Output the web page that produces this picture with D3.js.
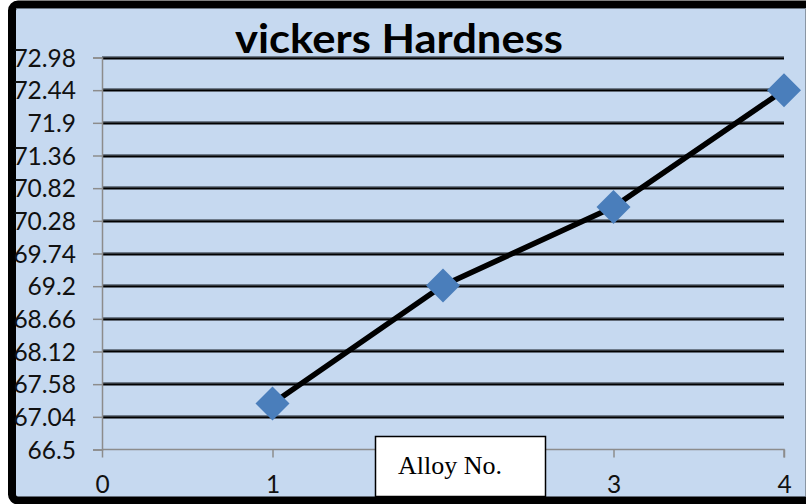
<!DOCTYPE html>
<html><head><meta charset="utf-8">
<script src="https://cdn.jsdelivr.net/npm/d3@7"></script>
<style>html,body{margin:0;padding:0;background:#fff;}svg{display:block;}</style>
</head><body>
<script>
const categories = [1, 2, 3, 4];
const hardness = [67.26, 69.21, 70.51, 72.44];
const yTicks = [66.5, 67.04, 67.58, 68.12, 68.66, 69.2, 69.74, 70.28, 70.82, 71.36, 71.9, 72.44, 72.98];
const xTicks = [0, 1, 2, 3, 4];
const xTickLabels = ["0", "1", "", "3", "4"]; // "2" is hidden behind the axis-title box
const title = "vickers Hardness";
const xTitle = "Alloy No.";

const W = 806, H = 504;
const svg = d3.select("body").append("svg").attr("width", W).attr("height", H);

// frame
svg.append("rect").attr("x", 12).attr("y", 4.5).attr("width", 806).attr("height", 496)
  .attr("rx", 6).attr("fill", "#c6d9f0").attr("stroke", "#000").attr("stroke-width", 8);
svg.append("line").attr("x1", 16).attr("x2", 806).attr("y1", 8.5).attr("y2", 8.5).attr("stroke", "#6d7885").attr("stroke-width", 1);
svg.append("line").attr("x1", 805.5).attr("x2", 805.5).attr("y1", 8).attr("y2", 496).attr("stroke", "#8a96a3").attr("stroke-width", 1);

const x = d3.scaleLinear().domain([0, 4]).range([102, 784]);
const y = d3.scaleLinear().domain([66.5, 72.98]).range([449.5, 57.5]);

// gridlines (skip the baseline)
const grid = svg.append("g");
yTicks.slice(1).forEach(v => {
  const yy = Math.round(y(v));
  grid.append("rect").attr("x", x(0)).attr("y", yy - 2).attr("width", x(4) - x(0)).attr("height", 1.3).attr("fill", "#6e7b8b");
  grid.append("rect").attr("x", x(0)).attr("y", yy - 0.7).attr("width", x(4) - x(0)).attr("height", 2.2).attr("fill", "#000");
});

const tickFont = "Lato, 'Open Sans', sans-serif";

// y axis
const yAxis = d3.axisLeft(y).tickValues(yTicks).tickSize(9).tickPadding(17).tickFormat(d => String(d));
const gy = svg.append("g").attr("transform", `translate(${x(0)},0)`).call(yAxis);
gy.select(".domain").attr("stroke", "#8c8c8c").attr("stroke-width", 1.5);
gy.selectAll(".tick line").attr("stroke", "#8c8c8c").attr("stroke-width", 1.5);
gy.selectAll(".tick text").attr("font-family", tickFont).attr("font-size", 24.5).attr("fill", "#111").attr("dy", "0.36em");

// x axis
const xAxis = d3.axisBottom(x).tickValues(xTicks).tickSize(8).tickPadding(18)
  .tickFormat((d, i) => xTickLabels[i]);
const gx = svg.append("g").attr("transform", `translate(0,${y(66.5)})`).call(xAxis);
gx.select(".domain").attr("stroke", "#8c8c8c").attr("stroke-width", 1.5).attr("d", `M${x(0)},0H${x(4)}V8`);
gx.selectAll(".tick line").attr("stroke", "#8c8c8c").attr("stroke-width", 1.5);
gx.selectAll(".tick text").attr("font-family", tickFont).attr("font-size", 24.5).attr("fill", "#111");

// series line
const line = d3.line().x((d, i) => x(categories[i])).y(d => y(d));
svg.append("path").datum(hardness).attr("d", line).attr("fill", "none").attr("stroke", "#000").attr("stroke-width", 5.5).attr("stroke-linejoin", "round");

// markers
const sym = d3.symbol().type(d3.symbolSquare).size(580);
svg.selectAll(".pt").data(hardness).enter().append("path")
  .attr("d", sym)
  .attr("transform", (d, i) => `translate(${x(categories[i])},${y(d)}) rotate(45)`)
  .attr("fill", "#4a7ebb");

// title
svg.append("text").attr("x", 399).attr("y", 53).attr("text-anchor", "middle")
  .attr("font-family", "Lato, 'Open Sans', sans-serif").attr("font-weight", "bold").attr("font-size", 40)
  .attr("textLength", 328).attr("lengthAdjust", "spacingAndGlyphs")
  .attr("fill", "#000").text(title);

// x axis title box
svg.append("rect").attr("x", 375.5).attr("y", 436.5).attr("width", 170).attr("height", 60)
  .attr("fill", "#fff").attr("stroke", "#000").attr("stroke-width", 1.5);
svg.append("text").attr("x", 398).attr("y", 474)
  .attr("font-family", "'Liberation Serif', 'Times New Roman', serif").attr("font-size", 26)
  .attr("fill", "#000").text(xTitle);
</script>
</body></html>
